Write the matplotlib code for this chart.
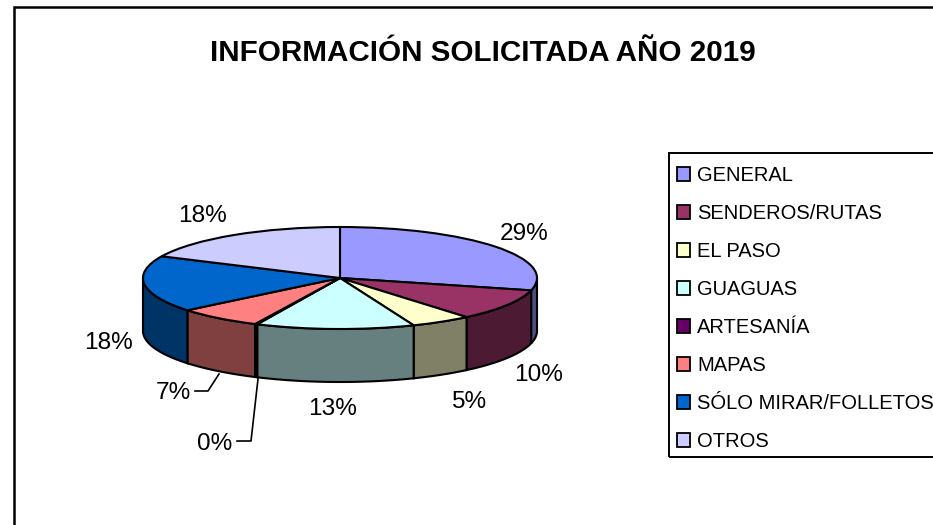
import matplotlib
matplotlib.use('Agg')
import matplotlib.pyplot as plt
import numpy as np
from matplotlib.colors import to_rgb
from matplotlib.patches import Rectangle

plt.rcParams['font.family'] = ['Liberation Sans', 'DejaVu Sans']

W, H = 933, 525

categories = ['GENERAL', 'SENDEROS/RUTAS', 'EL PASO', 'GUAGUAS', 'ARTESANÍA', 'MAPAS',
              'SÓLO MIRAR/FOLLETOS', 'OTROS']
values = [28.9, 10.0, 5.0, 13.0, 0.2, 7.0, 17.9, 18.0]
colors = ['#9999FF', '#993366', '#FFFFCC', '#CCFFFF', '#660066', '#FF8080', '#0066CC', '#CCCCFF']
pct_labels = ['29%', '10%', '5%', '13%', '0%', '7%', '18%', '18%']
title = 'INFORMACIÓN SOLICITADA AÑO 2019'

# label centres in pixels, same order as values
label_pos = [(524, 234), (539, 375), (469, 402), (333, 409), (215, 444), (173, 393), (108, 343), (203, 216)]


def fx(x):
    return x / W


def fy(y):
    return 1 - y / H


def frame(x0, y0, x1, y1, lw):
    fig.add_artist(Rectangle((fx(x0), fy(y1)), fx(x1 - x0), fy(y0) - fy(y1), transform=fig.transFigure,
                             facecolor='none', edgecolor='black', linewidth=lw))


fig = plt.figure(figsize=(W / 100, H / 100), dpi=100, facecolor='white')

# outer chart frame and legend box both run off the image
frame(14, 7, 960, 540, 1.8)
frame(669, 153, 960, 457, 1.4)

# pie axes: one data unit is rx across and ry down, so the circle comes out flat
cx, cy, rx, ry, depth_px = 340, 278, 197, 51, 53
depth = depth_px / ry
ax = fig.add_axes([fx(cx - rx), fy(cy + ry + depth_px), 2 * rx / W, (2 * ry + depth_px) / H])

wedges, _ = ax.pie(values, colors=colors, startangle=90, counterclock=False, radius=1,
                   wedgeprops={'edgecolor': 'black', 'linewidth': 1.5, 'zorder': 3})
ax.set_aspect('auto')
ax.set_xlim(-1, 1)
ax.set_ylim(-1 - depth, 1)
for w in wedges:
    w.set_clip_on(False)

# side wall, only the front half of the rim shows
edges = np.cumsum([0] + values) / sum(values) * 360
for i in range(len(values)):
    a0, a1 = max(edges[i], 90), min(edges[i + 1], 270)
    if a1 <= a0:
        continue
    t = np.radians(np.linspace(a0, a1, 60))
    xs = np.sin(t)
    ys = np.cos(t)
    dark = [c * 0.5 for c in to_rgb(colors[i])]
    ax.fill(np.r_[xs, xs[::-1]], np.r_[ys, ys[::-1] - depth], facecolor=dark, edgecolor='black',
            linewidth=1.5, zorder=2, clip_on=False)

for lab, (x, y) in zip(pct_labels, label_pos):
    fig.text(fx(x), fy(y), lab, fontsize=17.6, ha='center', va='center', color='black')

# leader lines for the two small labels
for xs, ys in [([195, 208, 219], [391, 391, 374]), ([237, 251, 258], [441, 441, 379])]:
    fig.add_artist(plt.Line2D([fx(v) for v in xs], [fy(v) for v in ys], color='black', linewidth=1.2))

fig.text(fx(483), fy(53), title, fontsize=21.3, fontweight='bold', ha='center', va='center')

leg = fig.legend(wedges, categories, loc='upper left', bbox_to_anchor=(fx(677), fy(166)), fontsize=14.5,
                 frameon=False, borderaxespad=0, borderpad=0, labelspacing=0.945, handlelength=0.65,
                 handleheight=0.65, handletextpad=0.35)
for h in leg.legend_handles:
    h.set_linewidth(1.3)

fig.savefig('out.png', dpi=100)
